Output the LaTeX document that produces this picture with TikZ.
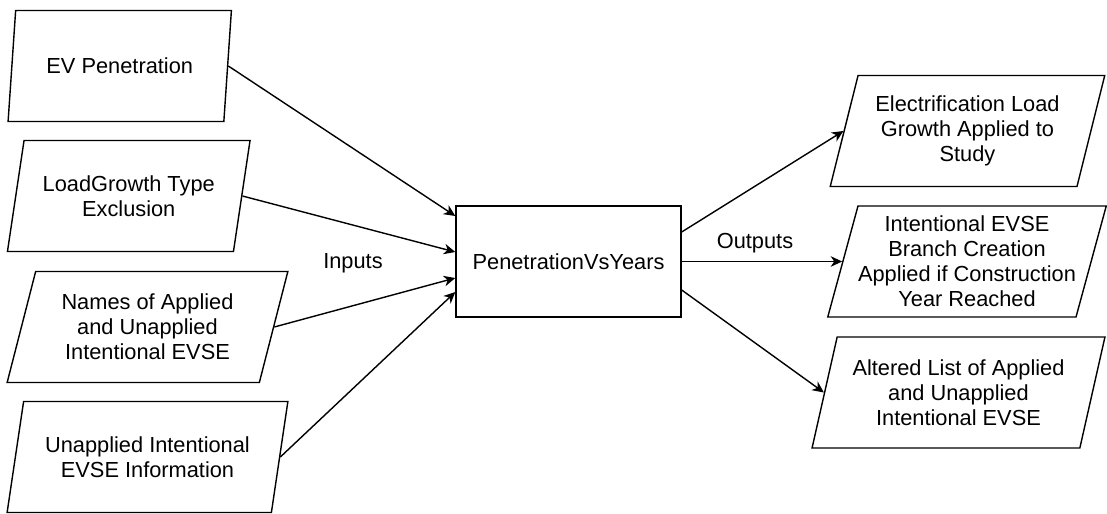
\documentclass[tikz,border=0pt]{standalone}
\usepackage{fontspec}
\setmainfont{Liberation Sans}
\usetikzlibrary{shapes.geometric,arrows.meta}

\tikzset{
  io/.style={trapezium, trapezium left angle=71.6, trapezium right angle=108.4,
    trapezium stretches=true, draw, line width=0.8pt, align=center,
    minimum height=2.22cm, inner sep=0pt},
  proc/.style={rectangle, draw, line width=0.8pt, minimum width=4.5cm, minimum height=2.22cm},
  flow/.style={-{Stealth[length=6.5pt,width=6pt,inset=2pt]}, line width=0.8pt}
}

\begin{document}
\begin{tikzpicture}[font=\fontsize{12.4}{14.2}\selectfont]
\useasboundingbox (0,0) rectangle (22.14,-10.28);
% inputs
\draw (2.395,-1.32) node[io, minimum width=4.5cm] (evpen) {EV Penetration};
\draw (2.575,-3.92) node[io, minimum width=4.86cm] (lgtype) {LoadGrowth Type\\Exclusion};
\draw (2.95,-6.54) node[io, minimum width=5.62cm] (names) {Names of Applied\\and Unapplied\\Intentional EVSE};
\draw (2.95,-9.14) node[io, minimum width=5.62cm] (unapp) {Unapplied Intentional\\EVSE Information};
% module
\draw (11.37,-5.23) node[proc] (pvy) {PenetrationVsYears};
% outputs
\draw (19.35,-2.62) node[io, minimum width=5.5cm] (elec) {Electrification Load\\Growth Applied to\\Study};
\draw (19.34,-5.23) node[io, minimum width=5.5cm] (branch) {Intentional EVSE\\Branch Creation\\Applied if Construction\\Year Reached};
\draw (19.17,-7.85) node[io, minimum width=5.86cm] (altered) {Altered List of Applied\\and Unapplied\\Intentional EVSE};
\draw (7.06,-5.26) node (inlbl) {Inputs};
\draw (15.1,-4.86) node (outlbl) {Outputs};
\path[flow] (evpen.right side) edge ([yshift=0.91cm]pvy.west);
\path[flow] (lgtype.right side) edge ([yshift=0.19cm]pvy.west);
\path[flow] (names.right side) edge ([yshift=-0.33cm]pvy.west);
\path[flow] (unapp.right side) edge ([yshift=-0.61cm]pvy.west);
\path[flow] ([yshift=0.59cm]pvy.east) edge (elec.left side);
\path[flow] (pvy.east) edge (branch.left side);
\path[flow] ([yshift=-0.57cm]pvy.east) edge (altered.left side);
\end{tikzpicture}
\end{document}
